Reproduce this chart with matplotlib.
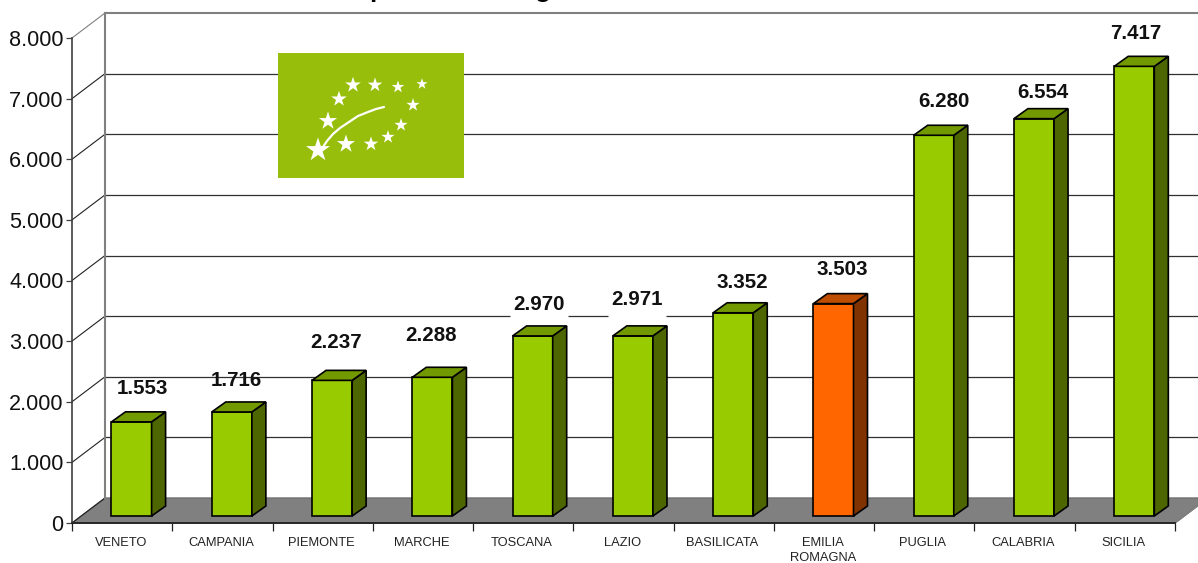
import numpy as np
import matplotlib
matplotlib.use("Agg")
import matplotlib.pyplot as plt
from matplotlib.patches import Polygon, Rectangle

plt.rcParams['font.family'] = ['Liberation Sans', 'DejaVu Sans']

regions = ["VENETO", "CAMPANIA", "PIEMONTE", "MARCHE", "TOSCANA", "LAZIO",
           "BASILICATA", "EMILIA\nROMAGNA", "PUGLIA", "CALABRIA", "SICILIA"]
operators = [1553, 1716, 2237, 2288, 2970, 2971, 3352, 3503, 6280, 6554, 7417]
value_labels = ["1.553", "1.716", "2.237", "2.288", "2.970", "2.971",
                "3.352", "3.503", "6.280", "6.554", "7.417"]
y_ticks = [0, 1000, 2000, 3000, 4000, 5000, 6000, 7000, 8000]
y_tick_labels = ["0", "1.000", "2.000", "3.000", "4.000", "5.000", "6.000", "7.000", "8.000"]

# label centres, pixels away from the top of each bar's front face
label_dx = [11, 5, 4, -1, 6, 4, 9, 9, 10, 9, 1]
label_dy = [33, 31, 38, 42, 31, 36, 30, 34, 34, 26, 33]
# only these two labels blank out the gridline below them
boxed_labels = ["2.970", "2.971"]

W, H = 1198, 563
fig = plt.figure(figsize=(W / 100, H / 100), dpi=100, facecolor="white")
left, right, bottom, top = 72, 1175, 523, 38
ax = fig.add_axes([left / W, 1 - bottom / H, (right - left) / W, (bottom - top) / H])
ax.set_xlim(0, len(regions))
ax.set_ylim(0, 8000)
ax.patch.set_visible(False)
for s in ax.spines.values():
    s.set_visible(False)

px_x = len(regions) / (right - left)
px_y = 8000 / (bottom - top)


def oblique(x, y, dx, dy):
    return (x + dx * px_x, y + dy * px_y)


def poly(points, **kw):
    ax.add_patch(Polygon(points, closed=True, clip_on=False, **kw))


# floor and back wall
depth_x, depth_y = 33, 25
xend = len(regions)
poly([(0, 0), oblique(0, 0, depth_x, depth_y), oblique(xend, 0, depth_x, depth_y), (xend, 0)],
     facecolor="#808080", edgecolor="#707070", lw=1, zorder=1)
for v in y_ticks:
    c = "#808080" if v == 8000 else "#303030"
    lw = 1.5 if v == 8000 else 0.9
    p0 = oblique(0, v, depth_x, depth_y)
    p1 = oblique(xend, v, depth_x, depth_y)
    if v > 0:
        ax.plot([p0[0], p1[0]], [p0[1], p1[1]], color=c, lw=lw, clip_on=False, zorder=1.2)
    ax.plot([0, p0[0]], [v, p0[1]], color="#808080" if v == 8000 else "#202020", lw=0.8,
            clip_on=False, zorder=1.2)
p0 = oblique(0, 0, depth_x, depth_y)
p1 = oblique(0, 8000, depth_x, depth_y)
ax.plot([p0[0], p1[0]], [p0[1], p1[1]], color="#808080", lw=1.5, clip_on=False, zorder=1.3)
p2 = oblique(xend, 0, depth_x, depth_y)
ax.plot([xend, p2[0]], [0, p2[1]], color="#808080", lw=1, clip_on=False, zorder=1.3)

# axes lines and ticks
ax.plot([0, 0], [0, 8000], color="#404040", lw=1.2, clip_on=False, zorder=2)
ax.plot([0, xend], [0, 0], color="#202020", lw=1.3, clip_on=False, zorder=2)
ax.set_yticks(y_ticks, y_tick_labels)
ax.set_xticks(np.arange(len(regions) + 1))
ax.set_xticklabels([])
ax.tick_params(axis="y", length=4.5, width=0.9, color="#404040", labelsize=15.6, pad=1.5,
               labelcolor="#111111")
ax.tick_params(axis="x", length=5.5, width=0.9, color="#202020")
ax.get_xticklines()[-2].set_color("#808080")
for i, name in enumerate(regions):
    ax.annotate(name, (i + 0.5, 0), xytext=(-1, -10), textcoords="offset points",
                ha="center", va="top", fontsize=9.3, color="#222222", linespacing=1.3,
                annotation_clip=False)

# bars
bar_w = 0.4
bar_shift = 9.4 * px_x
floor = 7 * px_y
bar_d_x, bar_d_y = 14, 10
x = np.arange(len(regions)) + 0.5 + bar_shift
colors = ["#FF6600" if r.startswith("EMILIA") else "#99CC00" for r in regions]
sides = ["#803300" if r.startswith("EMILIA") else "#4D6600" for r in regions]
tops = ["#BF4D00" if r.startswith("EMILIA") else "#739900" for r in regions]
ax.bar(x, operators, width=bar_w, bottom=floor, color=colors, edgecolor="black", lw=1.2,
       clip_on=False, zorder=3)
for xi, v, sc, tc in zip(x, operators, sides, tops):
    x0, x1 = xi - bar_w / 2, xi + bar_w / 2
    y0, y1 = floor, floor + v
    poly([(x1, y0), oblique(x1, y0, bar_d_x, bar_d_y), oblique(x1, y1, bar_d_x, bar_d_y), (x1, y1)],
         facecolor=sc, edgecolor="black", lw=1.2, zorder=3)
    poly([(x0, y1), (x1, y1), oblique(x1, y1, bar_d_x, bar_d_y), oblique(x0, y1, bar_d_x, bar_d_y)],
         facecolor=tc, edgecolor="black", lw=1.2, zorder=3)

# value labels
for xi, v, lab, dx, dy in zip(x, operators, value_labels, label_dx, label_dy):
    ax.annotate(lab, (xi, floor + v), xytext=(dx * 0.72, dy * 0.72), textcoords="offset points",
                ha="center", va="center", fontsize=14.8, fontweight="bold", color="#111111",
                annotation_clip=False, zorder=2.5)
    if lab in boxed_labels:
        # the label's white box cuts the 3.000 gridline
        cx = xi + dx * px_x
        gy = oblique(0, 3000, depth_x, depth_y)[1]
        ax.plot([cx - 29 * px_x, cx + 29 * px_x], [gy, gy], color="white", lw=2.2,
                clip_on=False, zorder=1.25, solid_capstyle="butt")

# title, cut off by the top edge as in the original: only descenders show
fig.text(350 / W, 1 + 3 / H, "Operatori biologici", ha="left", va="baseline",
         fontsize=18.6, fontweight="bold", color="black")

# logo, in its own pixel axes
logo = fig.add_axes([278 / W, 1 - 178 / H, 186 / W, 125 / H])
logo.set_xlim(278, 464)
logo.set_ylim(178, 53)
logo.axis("off")
logo.add_patch(Rectangle((278, 53), 186, 125, facecolor="#98BE0C", edgecolor="none"))
star_x = [318, 328, 339, 353, 375, 398, 422, 413, 401, 388, 371, 346]
star_y = [150, 121, 99, 85, 85, 87, 84, 105, 125, 137, 144, 144]
star_s = [330, 190, 140, 140, 120, 90, 70, 100, 100, 100, 120, 190]
logo.scatter(star_x, star_y, s=star_s, marker="*", color="white", linewidths=0)
vein_x = [323, 327, 333, 340, 349, 358, 368, 376, 384]
vein_y = [147, 141, 134, 128, 122, 116, 112, 109, 107]
logo.plot(vein_x, vein_y, color="white", lw=1.6, solid_capstyle="round")

fig.savefig("out.png", dpi=100)
